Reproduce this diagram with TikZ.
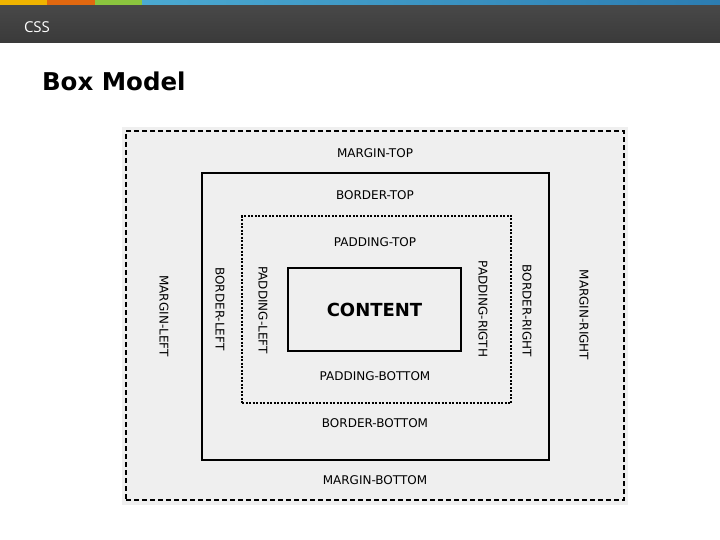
\documentclass[tikz,border=0pt]{standalone}
\usepackage{fontspec}
\setmainfont{DejaVu Sans}
\newfontfamily\headerfont{Open Sans}
\usetikzlibrary{positioning}

\definecolor{barDark}{HTML}{3A3A3A}
\definecolor{barLight}{HTML}{4A4A4A}
\definecolor{stripYellow}{HTML}{F0B400}
\definecolor{stripOrange}{HTML}{E2680F}
\definecolor{stripGreen}{HTML}{8CC63F}
\definecolor{stripBlueA}{HTML}{4BAAD2}
\definecolor{stripBlueB}{HTML}{2C7DB2}
\definecolor{boxGray}{HTML}{EFEFEF}

\begin{document}
\begin{tikzpicture}[
    x=1pt,
    y=-1pt,
    line width=2pt,
    every node/.style={inner sep=0pt},
    boxlabel/.style={font=\fontsize{12}{14}\selectfont},
    sidelabel/.style={boxlabel, rotate=-90}
]

\tikzstyle{marginbox}=[draw=black, dash pattern=on 5pt off 3pt]
\tikzstyle{borderbox}=[draw=black]
\tikzstyle{paddingbox}=[draw=black, dash pattern=on 2pt off 1.5pt]
\tikzstyle{contentbox}=[draw=black]

\useasboundingbox (0,0) rectangle (720,540);

% header bar
\shade[top color=barLight, bottom color=barDark] (0,0) rectangle (720,43);
\fill[stripYellow] (0,0) rectangle (47,5);
\fill[stripOrange] (47,0) rectangle (95,5);
\fill[stripGreen] (95,0) rectangle (142,5);
\shade[left color=stripBlueA, right color=stripBlueB] (142,0) rectangle (720,5);
\node[anchor=west, text=white, font=\headerfont\fontsize{15}{17}\selectfont] (header) at (23,27) {CSS};
\node[anchor=west, font=\bfseries\fontsize{24.5}{28}\selectfont] (title) at (41,81) {Box Model};

% box model
\fill[boxGray] (122,127) rectangle (628,505);
\node[marginbox, minimum width=498, minimum height=369] (margin) at (375,315.5) {};
\node[borderbox, minimum width=347, minimum height=287] (border) at (375.5,316.5) {};
\node[paddingbox, minimum width=269, minimum height=187] (padding) at (376.5,309.5) {};
\node[contentbox, minimum width=173, minimum height=83] (content) at (374.5,309.5)
    {\fontsize{18}{21}\selectfont\bfseries CONTENT};

\node[boxlabel] (mtop) at (375,153) {MARGIN-TOP};
\node[boxlabel] (btop) at (375,195) {BORDER-TOP};
\node[boxlabel] (ptop) at (375,242) {PADDING-TOP};
\node[boxlabel] (pbottom) at (375,376) {PADDING-BOTTOM};
\node[boxlabel] (bbottom) at (375,423) {BORDER-BOTTOM};
\node[boxlabel] (mbottom) at (375,480) {MARGIN-BOTTOM};

\node[sidelabel] (mleft) at (164,316) {MARGIN-LEFT};
\node[sidelabel] (bleft) at (220,309) {BORDER-LEFT};
\node[sidelabel] (pleft) at (263,310) {PADDING-LEFT};
\node[sidelabel] (pright) at (483,309) {PADDING-RIGTH};
\node[sidelabel] (bright) at (527,311) {BORDER-RIGHT};
\node[sidelabel] (mright) at (584,315) {MARGIN-RIGHT};

\end{tikzpicture}
\end{document}
